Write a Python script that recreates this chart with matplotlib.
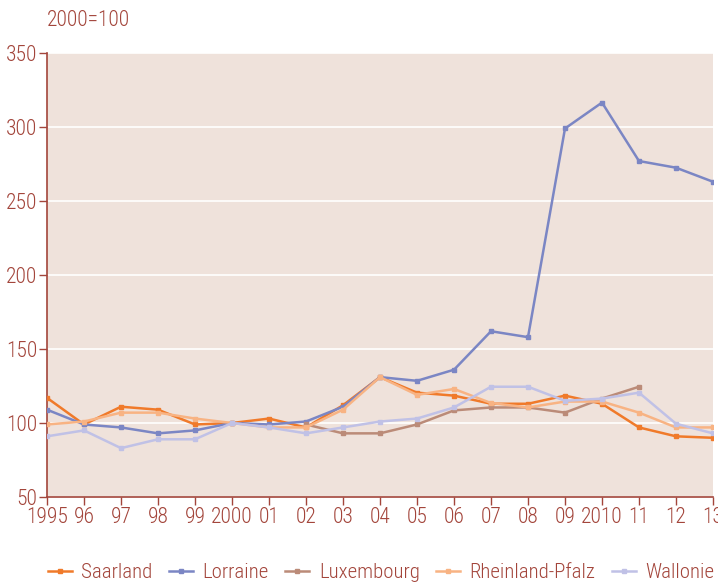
import numpy as np
import matplotlib
matplotlib.use("Agg")
import matplotlib.pyplot as plt

years = list(range(1995, 2014))
tick_labels = ["1995", "96", "97", "98", "99", "2000", "01", "02", "03", "04", "05",
               "06", "07", "08", "09", "2010", "11", "12", "13"]
nan = np.nan
saarland = [117, 99, 111, 109, 99, 100, 103, 97, 112, 131, 120.5, 118.5, 113, 113, 118.5, 113, 97, 91, 90]
lorraine = [109, 99, 97, 93, 95, 100, 99, 101, 111, 131, 128.5, 136, 162, 158, 299, 316.5, 277, 272.5, 263]
luxembourg = [nan, nan, nan, nan, nan, nan, nan, 99, 93, 93, 99, 108.5, 110.5, 110.5, 107, 116.5, 124.5, nan, nan]
rheinland = [99, 101, 107, 107, 103, 100, 97, 97, 109, 131, 119, 123, 113.5, 110.5, 114.5, 114.5, 107, 97, 97]
wallonie = [91, 95, 83, 89, 89, 100, 97, 93, 97, 101, 103, 110.5, 124.5, 124.5, 115, 116.5, 120.5, 99.5, 93]

series = [("Saarland", saarland, "#F07A2A"),
          ("Lorraine", lorraine, "#7B86C4"),
          ("Luxembourg", luxembourg, "#BB8B78"),
          ("Rheinland-Pfalz", rheinland, "#F8B383"),
          ("Wallonie", wallonie, "#C0C1E6")]

plt.rcParams['font.family'] = ["Roboto Condensed", "Barlow Condensed", "DejaVu Sans"]
plt.rcParams['font.weight'] = 'light'

txt = "#A3453B"
fs = 15.5
fig = plt.figure(figsize=(7.18, 5.84), dpi=100)
ax = fig.add_axes([47/718, 87/584, 666/718, 444/584])
ax.set_facecolor("#EFE2DB")

for name, vals, col in series:
    ax.plot(years, vals, color=col, lw=1.8, marker='s', ms=3.2, label=name, zorder=3)

ax.set_xlim(1995, 2013)
ax.set_ylim(50, 350)
ax.set_yticks([50, 100, 150, 200, 250, 300, 350])
ax.set_xticks(years)
ax.set_xticklabels(tick_labels)
ax.grid(axis='y', color='white', lw=1.2, zorder=1)
ax.set_axisbelow(True)
for s in ['top', 'right']:
    ax.spines[s].set_visible(False)
for s in ['left', 'bottom']:
    ax.spines[s].set_color(txt)
    ax.spines[s].set_linewidth(1.2)
ax.tick_params(colors=txt, labelsize=fs, length=6, width=1, pad=1)
for lab in ax.get_xticklabels() + ax.get_yticklabels():
    lab.set_color(txt)

fig.text(47/718, 1 - 20/584, "2000=100", color=txt, fontsize=fs, va='center', ha='left')

leg = fig.legend(loc='center', bbox_to_anchor=(0.531, 1 - 573/584), ncol=5, frameon=False,
                 fontsize=15, handlelength=1.15, columnspacing=0.8, handletextpad=0.45,
                 borderpad=0, borderaxespad=0)
for t in leg.get_texts():
    t.set_color(txt)

fig.savefig("out.png", dpi=100)
